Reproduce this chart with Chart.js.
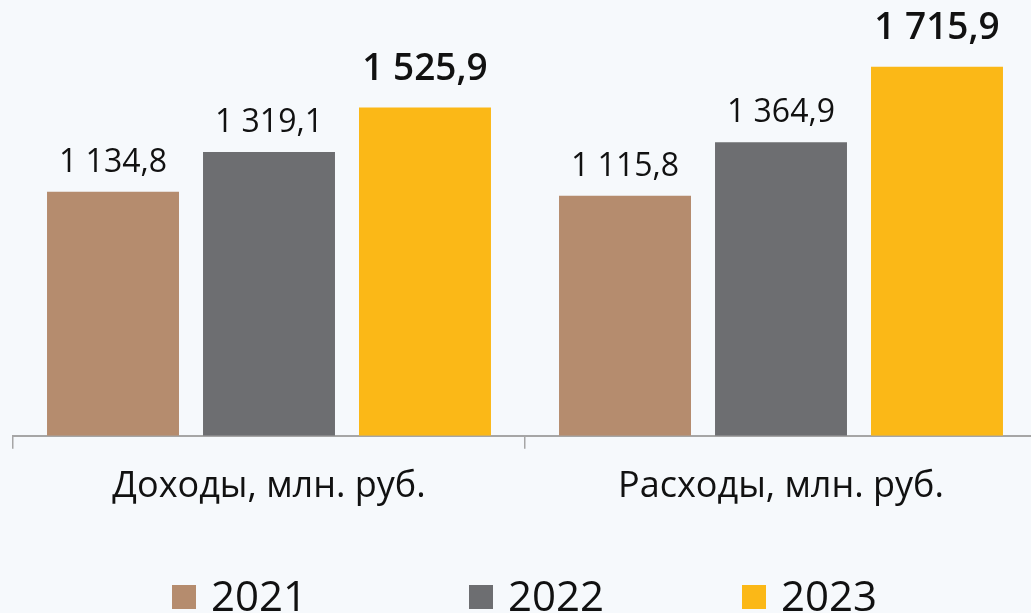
<!DOCTYPE html>
<html>
<head>
<meta charset="utf-8">
<script src="https://cdn.jsdelivr.net/npm/chart.js@4"></script>
<style>
  html, body { margin: 0; padding: 0; overflow: hidden; background: #F6F9FC; }
  #wrap { width: 1040px; height: 613px; }
</style>
</head>
<body>
<div id="wrap"><canvas id="chart"></canvas></div>
<script>
var categories = ["Доходы, млн. руб.", "Расходы, млн. руб."];
var years = ["2021", "2022", "2023"];
var values2021 = [1134.8, 1115.8];
var values2022 = [1319.1, 1364.9];
var values2023 = [1525.9, 1715.9];
var colors = ["#B58C6E", "#6D6E71", "#FBB817"];

function fmt(v) {
    // 1134.8 -> "1 134,8"
    var s = v.toFixed(1).replace(".", ",");
    var parts = s.split(",");
    var intPart = parts[0].replace(/\B(?=(\d{3})+(?!\d))/g, " ");
    return intPart + "," + parts[1];
}

var labelPlugin = {
    id: "barLabels",
    afterDatasetsDraw: function (chart) {
        var ctx = chart.ctx;
        ctx.save();
        ctx.textAlign = "center";
        ctx.textBaseline = "alphabetic";
        ctx.fillStyle = "#111";
        chart.data.datasets.forEach(function (ds, i) {
            var meta = chart.getDatasetMeta(i);
            var bold = i === 2;
            ctx.font = (bold ? "600 37px" : "32px") + " 'Open Sans'";
            meta.data.forEach(function (bar, j) {
                ctx.fillText(fmt(ds.data[j]), bar.x, bar.y - (bold ? 28 : 20));
            });
        });
        ctx.restore();
    }
};

// legend left edges as in the original
var legendX = [172, 469, 742];

var legendPlugin = {
    id: "bottomLegend",
    afterDraw: function (chart) {
        var ctx = chart.ctx;
        ctx.save();
        ctx.font = "42px 'Open Sans'";
        ctx.textBaseline = "alphabetic";
        chart.data.datasets.forEach(function (ds, i) {
            ctx.fillStyle = ds.backgroundColor;
            ctx.fillRect(legendX[i], 585, 24, 24);
            ctx.fillStyle = "#111";
            ctx.fillText(ds.label, legendX[i] + 39, 611);
        });
        ctx.restore();
    }
};

new Chart(document.getElementById("chart"), {
    type: "bar",
    data: {
        labels: categories,
        datasets: [
            { label: years[0], data: values2021, backgroundColor: colors[0] },
            { label: years[1], data: values2022, backgroundColor: colors[1] },
            { label: years[2], data: values2023, backgroundColor: colors[2] }
        ]
    },
    options: {
        responsive: true,
        maintainAspectRatio: false,
        animation: false,
        categoryPercentage: 0.914,
        barPercentage: 0.846,
        layout: { padding: { left: 13, right: 3, top: 0, bottom: 89 } },
        plugins: {
            legend: { display: false },
            tooltip: { enabled: false }
        },
        scales: {
            x: {
                border: { display: true, color: "#A6A6A6", width: 2 },
                grid: { display: true, offset: true, drawOnChartArea: false, tickLength: 13, color: "#A6A6A6", lineWidth: 1.5 },
                ticks: { color: "#111", padding: 16, font: { family: "'Open Sans'", size: 36 } }
            },
            y: {
                display: false,
                min: 0,
                max: 2026
            }
        }
    },
    plugins: [labelPlugin, legendPlugin]
});
</script>
</body>
</html>
